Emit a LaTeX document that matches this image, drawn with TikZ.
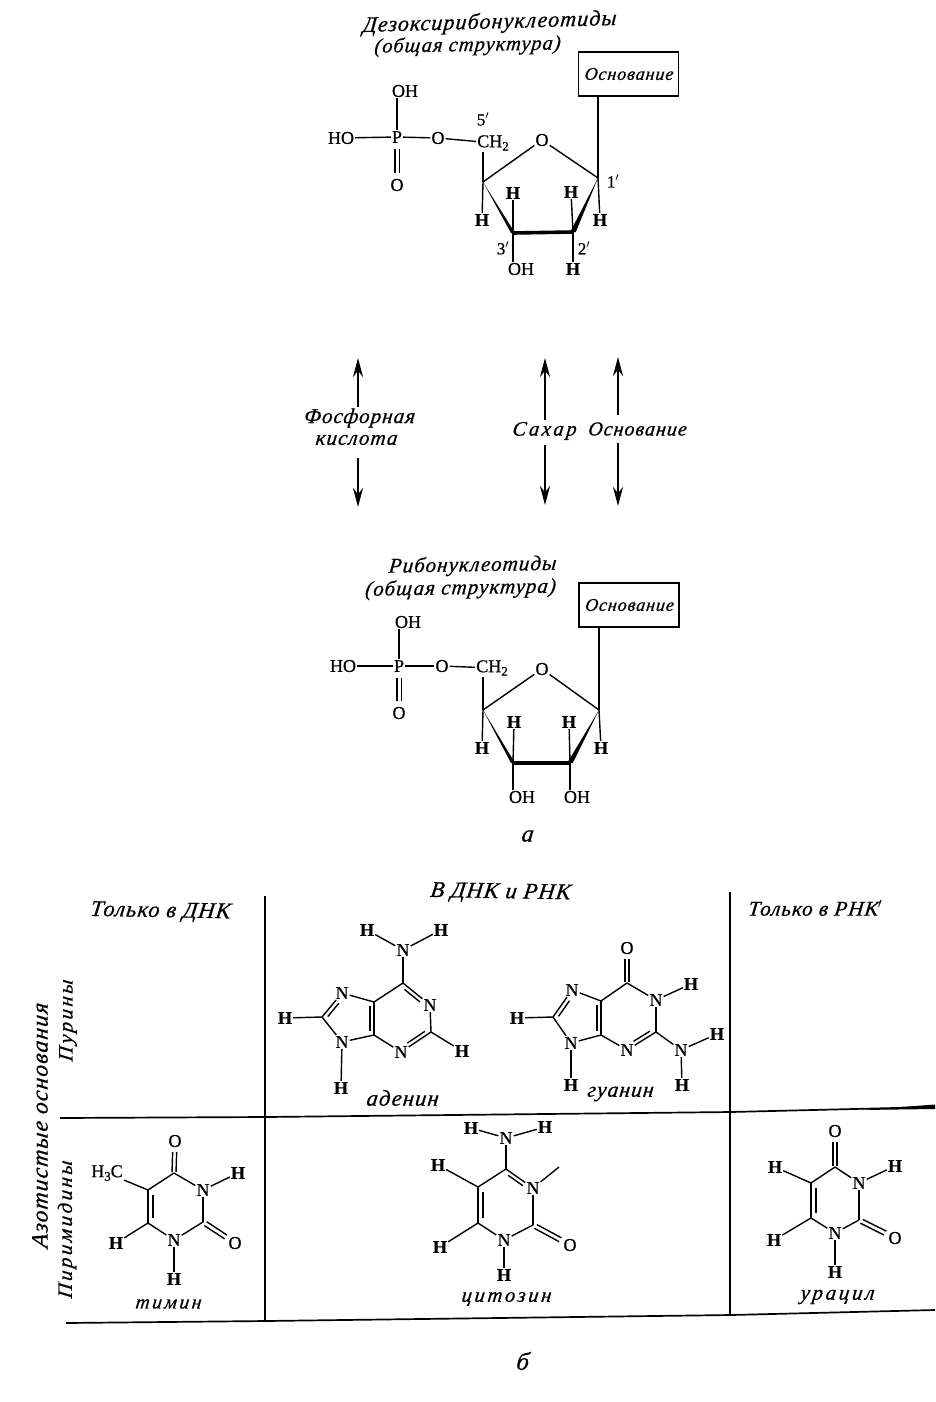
\documentclass[tikz,border=0pt]{standalone}
\usepackage{fontspec}
\setmainfont{Liberation Serif}
\newfontfamily\rusfam[LetterSpace=5,ItalicFeatures={FakeSlant=0.12,FakeBold=0.6}]{Liberation Serif}
\newfontfamily\ruswide[LetterSpace=13,ItalicFeatures={FakeSlant=0.12,FakeBold=0.6}]{Liberation Serif}
\newfontfamily\atomfam[FakeBold=0.8]{Liberation Serif}
\newcommand\rusF[1]{\rusfam\itshape\fontsize{#1}{#1}\selectfont}
\newcommand\rusW[1]{\ruswide\itshape\fontsize{#1}{#1}\selectfont}
\newcommand\atomF{\atomfam\fontsize{18}{18}\selectfont}
\newcommand\subnum[1]{\raisebox{-3.5pt}{\fontsize{13}{13}\selectfont #1}}
\newcommand\dbl[6]{\draw[bond,shorten <=#5pt,shorten >=#6pt] ([shift={(#3,#4)}]#1.center) -- ([shift={(#3,#4)}]#2.center);}
\usetikzlibrary{arrows.meta}
\tikzset{
  atom/.style={font=\atomF,inner sep=1pt,text=black},
  hatom/.style={font=\atomF\bfseries,inner sep=1pt,text=black},
  smalllab/.style={font=\atomfam\fontsize{17}{17}\selectfont,inner sep=0pt},
  bond/.style={draw=black,line width=1.4pt},
  thickbond/.style={draw=black,line width=3.6pt},
  wedgefill/.style={fill=black},
  rlabel/.style={inner sep=0pt,font=\rusF{22}},
  basebox/.style={draw=black,line width=1.8pt,minimum width=100pt,minimum height=44pt,inner sep=0pt,font=\rusF{18}},
  rulebold/.style={draw=black,line width=1.7pt},
  updown/.style={draw=black,line width=2.5pt,-{Stealth[length=19pt,width=10pt]}}
}
\begin{document}
\begin{tikzpicture}[x=1pt,y=-1pt]
\useasboundingbox (0,0) rectangle (935,1402);
\fill[white] (0,0) rectangle (935,1402);

% ---- deoxyribonucleotide ----
\node[rlabel,rotate=1.6] (dtitle) at (489,23) {Дезоксирибонуклеотиды};
\node[rlabel,rotate=1,font=\rusF{20.5}] (dsub) at (467,46) {(общая структура)};
\node[basebox] (dbase) at (628.5,74) {Основание};
\node[atom] (doh) at (405,91) {OH};
\node[atom] (dp) at (397,137) {P};
\node[atom] (dho) at (341,138) {HO};
\node[atom] (dol) at (438,138) {O};
\node[atom] (dch) at (493,143) {CH\subnum{2}};
\node[smalllab] (dfive) at (483,119) {5$'$};
\node[atom] (do) at (397,185) {O};
\node[atom] (dro) at (542,140) {O};
\coordinate (dc1) at (598,178);
\coordinate (dc2) at (573,232);
\coordinate (dc3) at (513,233);
\coordinate (dc4) at (483,182);
\node[hatom] (dh4) at (482,220) {H};
\node[hatom] (dh3) at (513,193) {H};
\node[hatom] (dh2) at (571,192) {H};
\node[hatom] (dh1) at (600,220) {H};
\node[atom] (doh3) at (521,269) {OH};
\node[hatom] (dh22) at (573,269) {H};
\node[smalllab] (dl3) at (503,248) {3$'$};
\node[smalllab] (dl2) at (584,248) {2$'$};
\node[smalllab] (dl1) at (613,181) {1$'$};
\draw[bond] (dp) -- (dp |- doh.south);
\foreach \a/\b in {dho/dp,dp/dol,dol/dch,dro/dc4,dro/dc1,dc4/dh4,dc3/dh3,dc2/dh2,dc1/dh1,dc2/dh22} \draw[bond] (\a) -- (\b);
\draw[bond] (dc3) -- (dc3 |- doh3.north);
\draw[bond] (dc4 |- dch.south) -- (dc4);
\draw[bond] (dc1 |- dbase.south) -- (dc1);
\dbl{dp}{do}{-2.2}{0}{12}{12}
\dbl{dp}{do}{2.2}{0}{12}{12}
\fill[wedgefill] (dc4) -- ([xshift=-2pt]dc3) -- ([xshift=2pt]dc3) -- cycle;
\fill[wedgefill] (dc1) -- ([xshift=-2.8pt]dc2) -- ([xshift=2.8pt]dc2) -- cycle;
\draw[thickbond] (dc3) -- (dc2);

% ---- arrows ----
\coordinate (at1) at (358,407); \coordinate (au1) at (358,358);
\coordinate (at2) at (358,458); \coordinate (ad1) at (358,507);
\coordinate (at3) at (545,420); \coordinate (au2) at (545,358);
\coordinate (at4) at (545,445); \coordinate (ad2) at (545,505);
\coordinate (at5) at (618,415); \coordinate (au3) at (618,357);
\coordinate (at6) at (618,443); \coordinate (ad3) at (618,506);
\foreach \a/\b in {at1/au1,at2/ad1,at3/au2,at4/ad2,at5/au3,at6/ad3} \draw[updown] (\a) -- (\b);
\node[rlabel,font=\rusF{21}] (lf1) at (359,418) {Фосфорная};
\node[rlabel,font=\rusF{21}] (lf2) at (356,440) {кислота};
\node[rlabel,font=\rusW{20.5}] (ls) at (544,431) {Сахар};
\node[rlabel,font=\rusF{20}] (lo) at (637,429) {Основание};

% ---- ribonucleotide ----
\node[rlabel,rotate=1,font=\rusF{21}] (rtitle) at (472,566) {Рибонуклеотиды};
\node[rlabel,rotate=1,font=\rusF{21}] (rsub) at (460,589) {(общая структура)};
\node[basebox] (rbase) at (629,605) {Основание};
\node[atom] (roh) at (408,622) {OH};
\node[atom] (rp) at (399,666) {P};
\node[atom] (rho) at (343,666) {HO};
\node[atom] (rol) at (442,666) {O};
\node[atom] (rch) at (492,668) {CH\subnum{2}};
\node[atom] (ro) at (399,713) {O};
\node[atom] (rro) at (542,669) {O};
\coordinate (rc1) at (599,710);
\coordinate (rc2) at (570,763);
\coordinate (rc3) at (513,763);
\coordinate (rc4) at (483,710);
\node[hatom] (rh4) at (482,748) {H};
\node[hatom] (rh3) at (514,722) {H};
\node[hatom] (rh2) at (569,722) {H};
\node[hatom] (rh1) at (601,748) {H};
\node[atom] (roh3) at (522,797) {OH};
\node[atom] (roh2) at (577,797) {OH};
\draw[bond] (rp) -- (rp |- roh.south);
\foreach \a/\b in {rho/rp,rp/rol,rol/rch,rro/rc4,rro/rc1,rc4/rh4,rc3/rh3,rc2/rh2,rc1/rh1} \draw[bond] (\a) -- (\b);
\draw[bond] (rc3) -- (rc3 |- roh3.north);
\draw[bond] (rc2) -- (rc2 |- roh2.north);
\draw[bond] (rc4 |- rch.south) -- (rc4);
\draw[bond] (rc1 |- rbase.south) -- (rc1);
\dbl{rp}{ro}{-2.2}{0}{12}{12}
\dbl{rp}{ro}{2.2}{0}{12}{12}
\fill[wedgefill] (rc4) -- ([xshift=-2pt]rc3) -- ([xshift=2pt]rc3) -- cycle;
\fill[wedgefill] (rc1) -- ([xshift=-2.8pt]rc2) -- ([xshift=2.8pt]rc2) -- cycle;
\draw[thickbond] (rc3) -- (rc2);
\node[rlabel,font=\rusF{24}] (lalpha) at (527,836) {а};

% ---- table ----
\coordinate (v1t) at (265,896); \coordinate (v1b) at (265,1321);
\coordinate (v2t) at (730,892); \coordinate (v2b) at (730,1315);
\coordinate (h1a) at (60,1118); \coordinate (h1b) at (266,1117); \coordinate (h1c) at (731,1112); \coordinate (h1d) at (935,1107);
\coordinate (h2a) at (66,1323); \coordinate (h2b) at (266,1321); \coordinate (h2c) at (731,1315); \coordinate (h2d) at (935,1310);
\draw[rulebold] (v1t) -- (v1b);
\draw[rulebold] (v2t) -- (v2b);
\draw[rulebold] (h1a) -- (h1b) -- (h1c) -- (h1d);
\draw[rulebold] (h2a) -- (h2b) -- (h2c) -- (h2d);
\fill[wedgefill] (860,1110) -- (935,1104.5) -- (935,1109) -- cycle;
\node[rlabel,rotate=-1,font=\rusF{22.5}] (t1) at (160,912) {Только в ДНК};
\node[rlabel,rotate=-1,font=\rusF{22.5}] (t2) at (500,893) {В ДНК и РНК};
\node[rlabel,font=\rusF{21}] (t3) at (815,908) {Только в РНК$'$};
\node[rlabel,rotate=90,font=\rusF{23.5}] (t4) at (40,1126) {Азотистые основания};
\node[rlabel,rotate=90,font=\rusW{20.5}] (t5) at (68,1021) {Пурины};
\node[rlabel,rotate=90,font=\rusW{20.5}] (t6) at (67,1230) {Пиримидины};

% ---- adenine ----
\node[hatom] (ah1) at (367,930) {H};
\node[hatom] (ah2) at (441,930) {H};
\node[atom] (an6) at (403,950) {N};
\coordinate (ac6) at (403,983);
\node[atom] (an1) at (430,1005) {N};
\coordinate (ac2) at (431,1032);
\node[atom] (an3) at (401,1052) {N};
\coordinate (ac4) at (374,1035);
\coordinate (ac5) at (374,1002);
\node[atom] (an7) at (342,993) {N};
\coordinate (ac8) at (322,1017);
\node[atom] (an9) at (342,1042) {N};
\node[hatom] (ah8) at (285,1018) {H};
\node[hatom] (ah9) at (341,1088) {H};
\node[hatom] (ah3) at (462,1051) {H};
\foreach \a/\b in {an6/ah1,an6/ah2,an6/ac6,ac6/an1,an1/ac2,ac2/an3,ac2/ah3,an3/ac4,ac4/ac5,ac5/ac6,ac5/an7,an7/ac8,ac8/an9,an9/ac4,ac8/ah8,an9/ah9} \draw[bond] (\a) -- (\b);
\dbl{ac6}{an1}{-2.4}{3.2}{5}{10}
\dbl{ac4}{ac5}{-4}{0}{4}{4}
\dbl{an7}{ac8}{3.2}{2.6}{10}{4}
\dbl{ac2}{an3}{-2}{-3.4}{5}{10}
\node[rlabel,font=\rusF{22.5}] (nad) at (402,1098) {аденин};

% ---- guanine ----
\node[atom] (go) at (627,948) {O};
\coordinate (gc6) at (627,983);
\node[atom] (gn1) at (656,1000) {N};
\node[hatom] (gh1) at (691,984) {H};
\coordinate (gc2) at (656,1032);
\node[atom] (gn2) at (681,1050) {N};
\node[hatom] (gh2) at (717,1034) {H};
\node[hatom] (gh3) at (682,1085) {H};
\node[atom] (gn3) at (627,1050) {N};
\coordinate (gc4) at (601,1035);
\coordinate (gc5) at (601,1001);
\node[atom] (gn7) at (572,990) {N};
\coordinate (gc8) at (553,1017);
\node[atom] (gn9) at (571,1043) {N};
\node[hatom] (gh8) at (517,1018) {H};
\node[hatom] (gh9) at (571,1085) {H};
\foreach \a/\b in {gc6/gn1,gn1/gh1,gn1/gc2,gc2/gn3,gc2/gn2,gn2/gh2,gn2/gh3,gn3/gc4,gc4/gc5,gc5/gc6,gc5/gn7,gn7/gc8,gc8/gn9,gn9/gc4,gc8/gh8,gn9/gh9} \draw[bond] (\a) -- (\b);
\dbl{gc6}{go}{-2}{0}{1}{11}
\dbl{gc6}{go}{2}{0}{1}{11}
\dbl{gc4}{gc5}{-4}{0}{4}{4}
\dbl{gn7}{gc8}{3.2}{2.6}{10}{4}
\dbl{gc2}{gn3}{-2}{-3.4}{5}{10}
\node[rlabel,font=\rusF{21.5}] (ngu) at (620,1094) {гуанин};

% ---- thymine ----
\node[atom] (to) at (175,1141) {O};
\coordinate (tc4) at (174,1173);
\node[atom] (tn3) at (203,1190) {N};
\node[hatom] (th3) at (238,1173) {H};
\coordinate (tc2) at (203,1222);
\node[atom] (to2) at (235,1243) {O};
\node[atom] (tn1) at (174,1240) {N};
\node[hatom] (th1) at (174,1279) {H};
\coordinate (tc6) at (148,1223);
\node[hatom] (th6) at (116,1243) {H};
\coordinate (tc5) at (148,1190);
\node[atom] (tme) at (107,1173) {H\subnum{3}C};
\foreach \a/\b in {tc4/tn3,tn3/th3,tn3/tc2,tc2/tn1,tn1/tc6,tn1/th1,tc6/tc5,tc6/th6,tc5/tme,tc5/tc4} \draw[bond] (\a) -- (\b);
\dbl{tc4}{to}{-2}{0}{1}{11}
\dbl{tc4}{to}{2}{0}{1}{11}
\dbl{tc6}{tc5}{5}{0}{5}{5}
\dbl{tc2}{to2}{-1.2}{1.9}{3}{11}
\dbl{tc2}{to2}{1.2}{-1.9}{3}{11}
\node[rlabel,font=\rusW{19.5}] (nth) at (168,1304) {тимин};

% ---- cytosine ----
\node[hatom] (ch1) at (471,1128) {H};
\node[atom] (cn4) at (506,1138) {N};
\node[hatom] (ch2) at (545,1127) {H};
\coordinate (cc4) at (506,1169);
\node[atom] (cn3) at (533,1188) {N};
\coordinate (cfree) at (559,1167);
\coordinate (cc2) at (533,1225);
\node[atom] (co) at (570,1245) {O};
\node[atom] (cn1) at (504,1240) {N};
\node[hatom] (chn) at (504,1275) {H};
\coordinate (cc6) at (478,1223);
\node[hatom] (ch6) at (440,1247) {H};
\coordinate (cc5) at (478,1187);
\node[hatom] (ch5) at (438,1165) {H};
\foreach \a/\b in {cn4/ch1,cn4/ch2,cn4/cc4,cc4/cn3,cn3/cfree,cn3/cc2,cc2/cn1,cn1/chn,cn1/cc6,cc6/cc5,cc6/ch6,cc5/ch5,cc5/cc4} \draw[bond] (\a) -- (\b);
\dbl{cc4}{cn3}{-2}{3.4}{5}{10}
\dbl{cc6}{cc5}{5}{0}{5}{5}
\dbl{cc2}{co}{-1.2}{1.9}{3}{11}
\dbl{cc2}{co}{1.2}{-1.9}{3}{11}
\node[rlabel,font=\rusW{20.5}] (ncy) at (506,1299) {цитозин};

% ---- uracil ----
\node[atom] (uo) at (835,1131) {O};
\coordinate (uc4) at (835,1167);
\node[atom] (un3) at (859,1183) {N};
\node[hatom] (uh3) at (895,1166) {H};
\coordinate (uc2) at (859,1220);
\node[atom] (uo2) at (895,1238) {O};
\node[atom] (un1) at (835,1233) {N};
\node[hatom] (uh1) at (835,1272) {H};
\coordinate (uc6) at (811,1218);
\node[hatom] (uh6) at (774,1240) {H};
\coordinate (uc5) at (811,1183);
\node[hatom] (uh5) at (775,1167) {H};
\foreach \a/\b in {uc4/un3,un3/uh3,un3/uc2,uc2/un1,un1/uc6,un1/uh1,uc6/uc5,uc6/uh6,uc5/uh5,uc5/uc4} \draw[bond] (\a) -- (\b);
\dbl{uc4}{uo}{-2}{0}{1}{11}
\dbl{uc4}{uo}{2}{0}{1}{11}
\dbl{uc6}{uc5}{5}{0}{5}{5}
\dbl{uc2}{uo2}{-1.2}{1.9}{3}{11}
\dbl{uc2}{uo2}{1.2}{-1.9}{3}{11}
\node[rlabel,font=\rusW{21}] (nur) at (837,1297) {урацил};

\node[rlabel,font=\rusF{25}] (lbeta) at (522,1361) {б};
\end{tikzpicture}
\end{document}
